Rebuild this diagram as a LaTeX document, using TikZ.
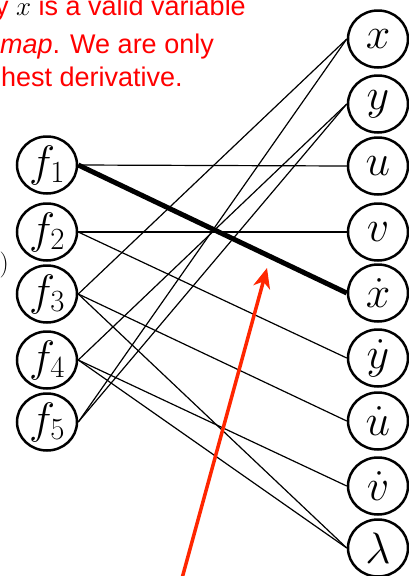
\RequirePackage{fix-cm}
\documentclass[tikz,border=0pt]{standalone}
\usepackage[no-math]{fontspec}
\newfontfamily\notefont{Liberation Sans}
\usetikzlibrary{
  arrows.meta,
  shapes.geometric
}
\definecolor{notered}{RGB}{255,0,0}
\definecolor{arrowred}{RGB}{255,38,0}

\begin{document}
\begin{tikzpicture}[x=1pt, y=-1pt,
  varnode/.style={ellipse, draw, line width=2.5pt, minimum width=60pt,
    minimum height=57pt, inner sep=0pt, font=\fontsize{44}{50}\selectfont},
  link/.style={line width=1.2pt},
  match/.style={line width=5pt},
  note/.style={anchor=base west, inner sep=0pt, text=notered,
    font=\notefont\fontsize{27}{32}\selectfont}]
  \useasboundingbox (0,0) rectangle (408,576);

  % note, cut off at the left edge
  \node[note] (line1) at (-5,15) {y \textcolor{black}{$x$} is a valid variable};
  \node[note] (line2) at (0,53) {\textit{map}. We are only};
  \node[note] (line3) at (1,86) {hest derivative.};
  \node[anchor=east, inner sep=0pt, font=\fontsize{26}{30}\selectfont] (paren) at (9,265) {$)$};

  % equations
  \node[varnode] (f1) at (47,165) {$f_1$};
  \node[varnode] (f2) at (47,232) {$f_2$};
  \node[varnode] (f3) at (47,294) {$f_3$};
  \node[varnode] (f4) at (47,360) {$f_4$};
  \node[varnode] (f5) at (47,422) {$f_5$};

  % variables
  \node[varnode] (x)   at (378,39)  {$x$};
  \node[varnode] (y)   at (378,104) {$y$};
  \node[varnode] (u)   at (378,166) {$u$};
  \node[varnode] (v)   at (378,232) {$v$};
  \node[varnode] (xd)  at (378,293) {$\dot x$};
  \node[varnode] (yd)  at (378,358) {$\dot y$};
  \node[varnode] (ud)  at (378,421) {$\dot u$};
  \node[varnode] (vd)  at (378,486) {$\dot v$};
  \node[varnode] (lam) at (378,548) {$\lambda$};

  % incidences
  \draw[link] (f1.east) -- (u.west);
  \draw[link] (f2.east) -- (v.west);
  \draw[link] (f2.east) -- (yd.west);
  \draw[link] (f3.east) -- (x.west);
  \draw[link] (f3.east) -- (ud.west);
  \draw[link] (f3.east) -- (lam.west);
  \draw[link] (f4.east) -- (y.west);
  \draw[link] (f4.east) -- (vd.west);
  \draw[link] (f4.east) -- (lam.west);
  \draw[link] (f5.east) -- (x.west);
  \draw[link] (f5.east) -- (y.west);
  \draw[match] (f1.east) -- (xd.west);

  % pointer to the matched edge
  \coordinate (tail) at (181,582);
  \coordinate (tip) at (267,268);
  \draw[arrowred, line width=3.5pt, -{Stealth[length=20pt, width=17pt, inset=6pt]}] (tail) -- (tip);
\end{tikzpicture}
\end{document}
